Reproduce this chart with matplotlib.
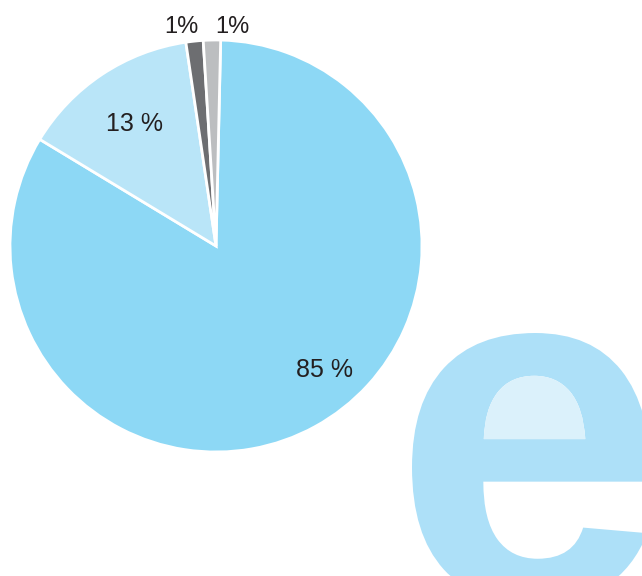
import matplotlib
matplotlib.use("Agg")
import matplotlib.pyplot as plt
from matplotlib.textpath import TextPath
from matplotlib.font_manager import FontProperties
from matplotlib.patches import PathPatch, Polygon
from matplotlib.transforms import Affine2D

# shares; printed labels as in the chart
shares = [83.3, 14.0, 1.35, 1.35]
labels = ["85 %", "13 %", "1%", "1%"]
colors = ["#8dd8f5", "#b9e5f8", "#6d6e71", "#bcbec0"]
label_pos = [(325, 370), (134, 124), (181, 27), (232, 27)]
label_size = [18, 18, 17, 17]

W, H = 642, 576
fig = plt.figure(figsize=(W / 100, H / 100), dpi=100)
ax = fig.add_axes([0, 0, 1, 1])
ax.set_xlim(0, W)
ax.set_ylim(0, H)
ax.set_aspect("equal")
ax.axis("off")

# big decorative "e" in the corner
fp = FontProperties(family="Liberation Sans", weight="bold")
tp = TextPath((0, 0), "e", size=1, prop=fp)
ext = tp.get_extents()
s = 495
tr = Affine2D().translate(-ext.x0, -ext.y1).scale(s).translate(412, H - 333)
epath = tr.transform_path(tp)
ax.add_patch(PathPatch(epath, facecolor="#ade0f8", edgecolor="none", zorder=1))
polys = epath.to_polygons()
if len(polys) > 1:
    def area(p):
        return (p[:, 0].max() - p[:, 0].min()) * (p[:, 1].max() - p[:, 1].min())
    inner = min(polys, key=area)
    ax.add_patch(Polygon(inner, closed=True, facecolor="#dbf1fb",
                         edgecolor="none", zorder=1.5))

ax.pie(shares, colors=colors, startangle=88.7, counterclock=False,
       center=(216, H - 246), radius=206, frame=True,
       wedgeprops=dict(edgecolor="white", linewidth=2, zorder=2))
ax.set_xlim(0, W)
ax.set_ylim(0, H)
ax.axis("off")

for txt, (x, y), fs in zip(labels, label_pos, label_size):
    ax.text(x, H - y, txt, ha="center", va="center", fontsize=fs,
            family="Liberation Sans", color="#231f20", zorder=3)

fig.savefig("out.png", dpi=100)
